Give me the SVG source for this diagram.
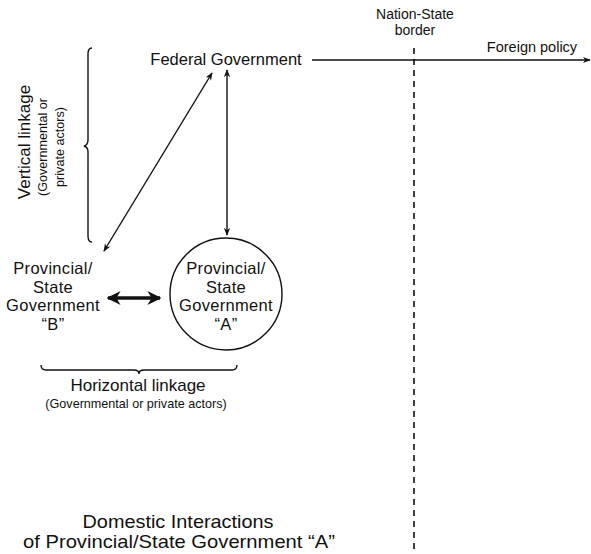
<svg xmlns="http://www.w3.org/2000/svg" width="591" height="554" viewBox="0 0 591 554">
<defs>
<style>
text{font-family:"Liberation Sans",Arial,sans-serif;fill:#111;text-anchor:middle}
.l{font-size:16.5px;letter-spacing:0.3px}
.f{font-size:16.5px}
.h{font-size:17px}
.m{font-size:14px}
.fp{font-size:14.5px}
.s{font-size:12.6px}
.t{font-size:19px}
.ln{stroke:#111;stroke-width:1.4;fill:none}
</style>
<marker id="ah" viewBox="0 0 10 10" refX="9" refY="5" markerWidth="8" markerHeight="8" orient="auto-start-reverse" markerUnits="userSpaceOnUse"><path d="M0,1 L10,5 L0,9 L3,5 Z" fill="#111"/></marker>
<marker id="bh" viewBox="0 0 10 10" refX="9" refY="5" markerWidth="14" markerHeight="14" orient="auto-start-reverse" markerUnits="userSpaceOnUse"><path d="M0,0 L10,5 L0,10 L3,5 Z" fill="#111"/></marker>
</defs>
<rect width="591" height="554" fill="#fff"/>
<g id="federal"><text class="f" x="226" y="65">Federal Government</text></g>
<g id="border"><text class="m" x="415" y="19">Nation-State</text><text class="m" x="415" y="35">border</text>
<line x1="414" y1="48" x2="414" y2="550" stroke="#111" stroke-width="1.6" stroke-dasharray="6,5"/></g>
<g id="foreign"><text class="fp" x="532" y="52">Foreign policy</text></g>
<g id="provA"><circle cx="226" cy="294" r="56" class="ln"/>
<text class="l" x="226" y="274">Provincial/</text><text class="l" x="226" y="292.5">State</text><text class="l" x="226" y="311">Government</text><text class="l" x="226" y="329.5">“A”</text></g>
<g id="provB"><text class="l" x="53" y="274">Provincial/</text><text class="l" x="53" y="292.5">State</text><text class="l" x="53" y="311">Government</text><text class="l" x="53" y="329.5">“B”</text></g>
<g id="vertical"><path class="ln" d="M92,48 Q88,48 88,54 L88,140 Q88,145 84,146 Q88,147 88,152 L88,236 Q88,242 92,242"/>
<text class="h" transform="translate(30,142) rotate(-90)">Vertical linkage</text>
<text class="s" transform="translate(47,147) rotate(-90)">(Governmental or</text>
<text class="s" transform="translate(64,147) rotate(-90)">private actors)</text></g>
<g id="horizontal"><path class="ln" d="M41,365 Q41,370 46,370 L134,370 Q139,370 139,374 Q139,370 144,370 L232,370 Q237,370 237,365"/>
<text class="h" x="138" y="391">Horizontal linkage</text>
<text class="s" x="136" y="408">(Governmental or private actors)</text></g>
<g id="title"><text class="t" x="178" y="528" textLength="191" lengthAdjust="spacingAndGlyphs">Domestic Interactions</text><text class="t" x="179" y="548" textLength="312" lengthAdjust="spacingAndGlyphs">of Provincial/State Government “A”</text></g>
<g id="connectors">
<line class="ln" x1="312" y1="60" x2="590" y2="60" marker-end="url(#ah)"/>
<line class="ln" x1="227" y1="70" x2="227" y2="235" marker-start="url(#ah)" marker-end="url(#ah)"/>
<line class="ln" x1="212" y1="73" x2="104" y2="251" marker-start="url(#ah)" marker-end="url(#ah)"/>
<line x1="108" y1="298" x2="160" y2="298" stroke="#111" stroke-width="3.5" marker-start="url(#bh)" marker-end="url(#bh)"/>
</g>
</svg>
